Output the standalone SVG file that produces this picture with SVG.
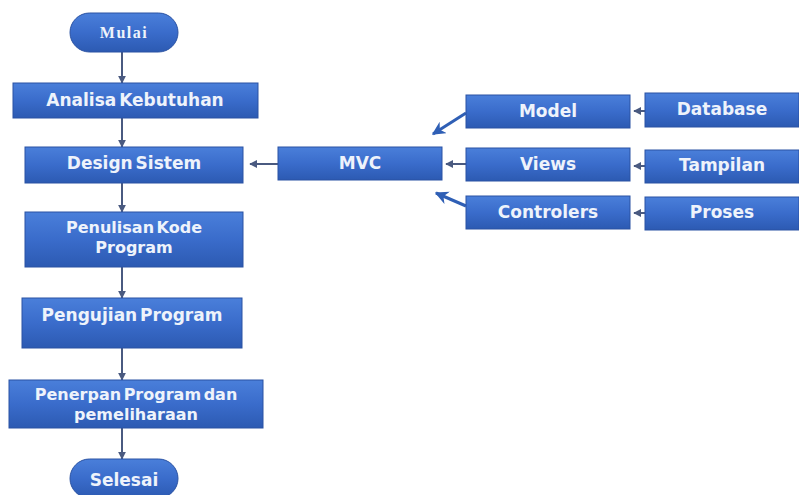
<svg xmlns="http://www.w3.org/2000/svg" width="799" height="495" viewBox="0 0 799 495">
<defs>
<linearGradient id="g" x1="0" y1="0" x2="0" y2="1">
<stop offset="0" stop-color="#4a7fda"/>
<stop offset="0.5" stop-color="#3a6ccb"/>
<stop offset="1" stop-color="#2c5ab2"/>
</linearGradient>
<marker id="ah" viewBox="0 0 10 10" refX="9" refY="5" markerWidth="4" markerHeight="4" orient="auto">
<path d="M0,0 L10,5 L0,10 Z" fill="#4a5a80"/>
</marker>
<marker id="ahb" viewBox="0 0 10 10" refX="9" refY="5" markerWidth="4.5" markerHeight="4.5" orient="auto">
<path d="M0,0 L10,5 L0,10 L3,5 Z" fill="#2f5fb5"/>
</marker>
</defs>
<style>
.b{fill:url(#g);stroke:#2a52a3;stroke-width:1}
.t{font-family:"DejaVu Sans",sans-serif;font-weight:bold;font-size:17px;fill:#eef3fb;text-anchor:middle;word-spacing:-3px}
.t2{font-size:16px}
.s{font-family:"Liberation Serif",serif;font-weight:bold;font-size:16px;fill:#eef3fb;text-anchor:middle;letter-spacing:1.5px}
.c{stroke:#4a5a80;stroke-width:2;fill:none;marker-end:url(#ah)}
.d{stroke:#2f5fb5;stroke-width:3;fill:none;marker-end:url(#ahb)}
</style>
<rect width="799" height="495" fill="#ffffff"/>
<g id="connectors">
<line class="c" x1="122" y1="52" x2="122" y2="83"/>
<line class="c" x1="122" y1="118" x2="122" y2="147"/>
<line class="c" x1="122" y1="183" x2="122" y2="212"/>
<line class="c" x1="122" y1="267" x2="122" y2="298"/>
<line class="c" x1="122" y1="348" x2="122" y2="380"/>
<line class="c" x1="122" y1="428" x2="122" y2="459"/>
<line class="c" x1="278" y1="164" x2="250" y2="164"/>
<line class="c" x1="466" y1="164" x2="446" y2="164"/>
<line class="d" x1="466" y1="113" x2="433" y2="134"/>
<line class="d" x1="466" y1="206" x2="436" y2="193"/>
<line class="c" x1="645" y1="111" x2="634" y2="111"/>
<line class="c" x1="645" y1="166" x2="634" y2="166"/>
<line class="c" x1="645" y1="213" x2="634" y2="213"/>
</g>
<g id="mulai"><rect class="b" x="70" y="13" width="108" height="39" rx="19.5"/><text class="s" x="124" y="38">Mulai</text></g>
<g id="analisa"><rect class="b" x="13" y="83" width="245" height="35"/><text class="t" x="135" y="106">Analisa Kebutuhan</text></g>
<g id="design"><rect class="b" x="25" y="147" width="218" height="36"/><text class="t" x="134" y="169">Design Sistem</text></g>
<g id="penulisan"><rect class="b" x="25" y="212" width="218" height="55"/><text class="t t2" x="134" y="233">Penulisan Kode</text><text class="t t2" x="134" y="253">Program</text></g>
<g id="pengujian"><rect class="b" x="22" y="298" width="220" height="50"/><text class="t" x="132" y="321">Pengujian Program</text></g>
<g id="penerapan"><rect class="b" x="9" y="380" width="254" height="48"/><text class="t t2" x="136" y="400">Penerpan Program dan</text><text class="t t2" x="136" y="420">pemeliharaan</text></g>
<g id="selesai"><rect class="b" x="70" y="459" width="108" height="39" rx="19.5"/><text class="t" x="124" y="486">Selesai</text></g>
<g id="mvc"><rect class="b" x="278" y="147" width="164" height="33"/><text class="t" x="360" y="169">MVC</text></g>
<g id="model"><rect class="b" x="466" y="95" width="164" height="33"/><text class="t" x="548" y="117">Model</text></g>
<g id="views"><rect class="b" x="466" y="148" width="164" height="33"/><text class="t" x="548" y="170">Views</text></g>
<g id="controlers"><rect class="b" x="466" y="196" width="164" height="33"/><text class="t" x="548" y="218">Controlers</text></g>
<g id="database"><rect class="b" x="645" y="93" width="154" height="34"/><text class="t" x="722" y="115">Database</text></g>
<g id="tampilan"><rect class="b" x="645" y="150" width="154" height="33"/><text class="t" x="722" y="171">Tampilan</text></g>
<g id="proses"><rect class="b" x="645" y="197" width="154" height="33"/><text class="t" x="722" y="218">Proses</text></g>
</svg>
